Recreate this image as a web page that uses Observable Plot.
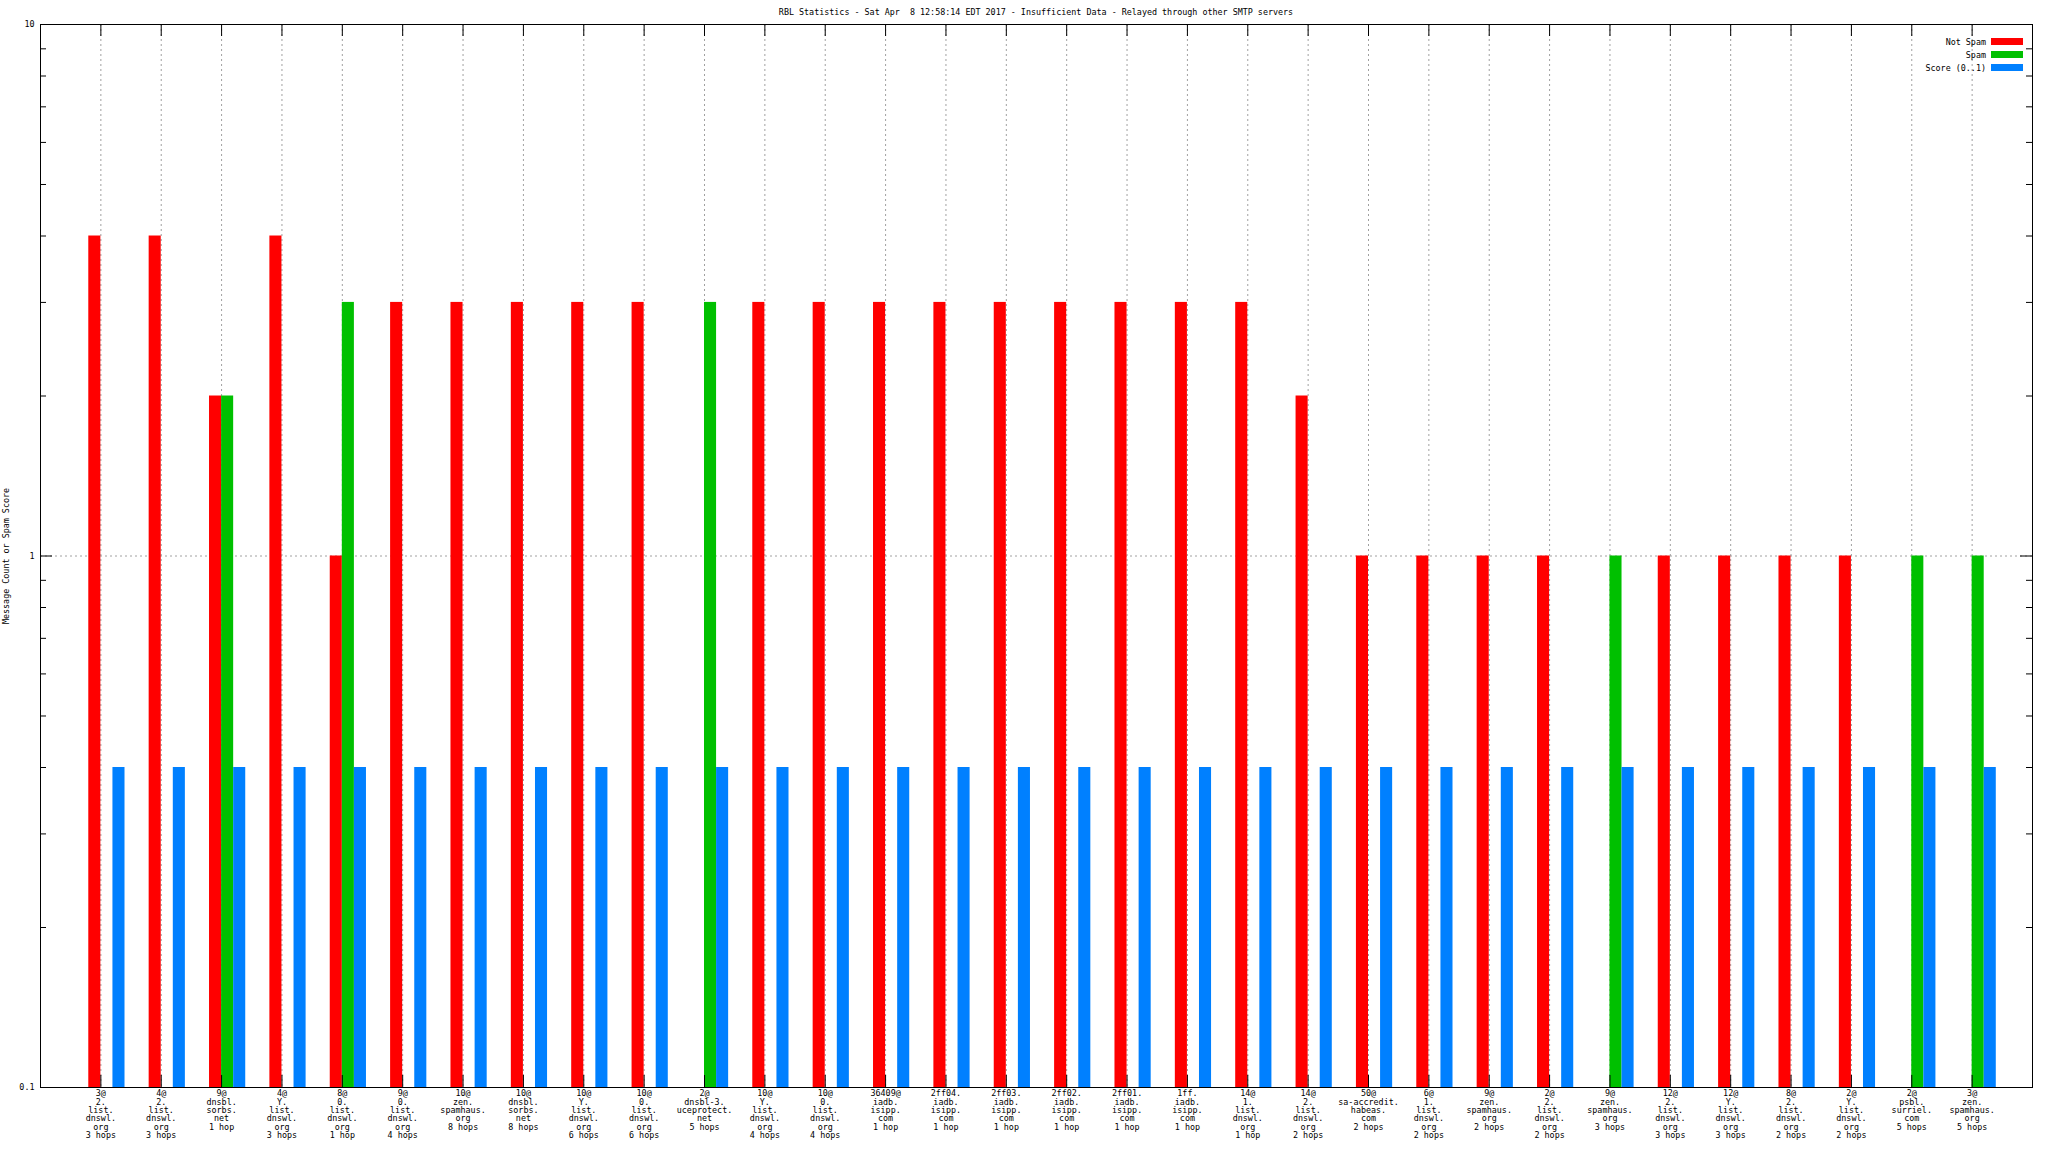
<!DOCTYPE html>
<html>
<head>
<meta charset="utf-8">
<script src="https://cdn.jsdelivr.net/npm/d3@7"></script>
<script src="https://cdn.jsdelivr.net/npm/@observablehq/plot@0.6"></script>
<style>
  body { margin: 0; background: #fff; }
  #wrap { position: relative; width: 2048px; height: 1152px; font-family: "DejaVu Sans Mono", monospace; color: #000; }
  #title { position: absolute; left: 40px; width: 1992px; top: 7px; text-align: center; font-size: 8.4px; line-height: 10px; white-space: pre; }
  #legend { position: absolute; top: 35px; right: 25px; font-size: 8.4px; }
  .row { display: flex; align-items: center; justify-content: flex-end; height: 13px; }
  .sw { width: 32px; height: 7px; margin-left: 5px; }
</style>
</head>
<body>
<div id="wrap">
  <div id="chart"></div>
  <div id="title"></div>
  <div id="legend"></div>
</div>
<script>
const title = "RBL Statistics - Sat Apr  8 12:58:14 EDT 2017 - Insufficient Data - Relayed through other SMTP servers";
const yLabel = "Message Count or Spam Score";

const categories = [
  "3@\n2.\nlist.\ndnswl.\norg\n3 hops",
  "4@\n2.\nlist.\ndnswl.\norg\n3 hops",
  "9@\ndnsbl.\nsorbs.\nnet\n1 hop",
  "4@\nY.\nlist.\ndnswl.\norg\n3 hops",
  "8@\n0.\nlist.\ndnswl.\norg\n1 hop",
  "9@\n0.\nlist.\ndnswl.\norg\n4 hops",
  "10@\nzen.\nspamhaus.\norg\n8 hops",
  "10@\ndnsbl.\nsorbs.\nnet\n8 hops",
  "10@\nY.\nlist.\ndnswl.\norg\n6 hops",
  "10@\n0.\nlist.\ndnswl.\norg\n6 hops",
  "2@\ndnsbl-3.\nuceprotect.\nnet\n5 hops",
  "10@\nY.\nlist.\ndnswl.\norg\n4 hops",
  "10@\n0.\nlist.\ndnswl.\norg\n4 hops",
  "36409@\niadb.\nisipp.\ncom\n1 hop",
  "2ff04.\niadb.\nisipp.\ncom\n1 hop",
  "2ff03.\niadb.\nisipp.\ncom\n1 hop",
  "2ff02.\niadb.\nisipp.\ncom\n1 hop",
  "2ff01.\niadb.\nisipp.\ncom\n1 hop",
  "1ff.\niadb.\nisipp.\ncom\n1 hop",
  "14@\n1.\nlist.\ndnswl.\norg\n1 hop",
  "14@\n2.\nlist.\ndnswl.\norg\n2 hops",
  "50@\nsa-accredit.\nhabeas.\ncom\n2 hops",
  "6@\n1.\nlist.\ndnswl.\norg\n2 hops",
  "9@\nzen.\nspamhaus.\norg\n2 hops",
  "2@\n2.\nlist.\ndnswl.\norg\n2 hops",
  "9@\nzen.\nspamhaus.\norg\n3 hops",
  "12@\n2.\nlist.\ndnswl.\norg\n3 hops",
  "12@\nY.\nlist.\ndnswl.\norg\n3 hops",
  "8@\n2.\nlist.\ndnswl.\norg\n2 hops",
  "2@\nY.\nlist.\ndnswl.\norg\n2 hops",
  "2@\npsbl.\nsurriel.\ncom\n5 hops",
  "3@\nzen.\nspamhaus.\norg\n5 hops"
];

const notSpam = [4,4,2,4,1,3,3,3,3,3,0,3,3,3,3,3,3,3,3,3,2,1,1,1,1,0,1,1,1,1,0,0];
const spam    = [0,0,2,0,3,0,0,0,0,0,3,0,0,0,0,0,0,0,0,0,0,0,0,0,0,1,0,0,0,0,1,1];
const score   = [0.4,0.4,0.4,0.4,0.4,0.4,0.4,0.4,0.4,0.4,0.4,0.4,0.4,0.4,0.4,0.4,
                 0.4,0.4,0.4,0.4,0.4,0.4,0.4,0.4,0.4,0.4,0.4,0.4,0.4,0.4,0.4,0.4];

const seriesNames = ["Not Spam", "Spam", "Score (0..1)"];
const seriesColors = ["#ff0000", "#00c000", "#0080ff"];

const yTickLabels = [0.1, 1, 10];
const yMinorTicks = [0.2,0.3,0.4,0.5,0.6,0.7,0.8,0.9,2,3,4,5,6,7,8,9];
const yMajorTicks = [1];

// layout
const W = 2048, H = 1152;
const mL = 40, mR = 16, mT = 24, mB = 65;
const fw = W - mL - mR, fh = H - mT - mB;
const barW = 0.2;
const offsets = [-barW, 0, barW];
const yMin = 0.1;
const FONT = "DejaVu Sans Mono";
const FS = 8.4;

const idx = d3.range(categories.length);
const allSeries = [notSpam, spam, score];
const rows = [];
allSeries.forEach((vals, s) => {
  vals.forEach((v, i) => { if (v > 0) rows.push({i, s, v}); });
});

const chart = Plot.plot({
  width: W, height: H,
  marginLeft: mL, marginRight: mR, marginTop: mT, marginBottom: mB,
  style: {fontFamily: FONT, fontSize: FS + "px", background: "white", color: "black"},
  x: {type: "linear", domain: [-1, 32]},
  y: {type: "log", domain: [0.1, 10]},
  marks: [
    Plot.ruleX(idx, {x: d => d, stroke: "#a0a0a0", strokeDasharray: "2,3"}),
    Plot.ruleY(yMajorTicks, {y: d => d, stroke: "#a0a0a0", strokeDasharray: "2,3"}),
    Plot.rect(rows, {
      x1: d => d.i + offsets[d.s],
      x2: d => d.i + offsets[d.s] + barW,
      y1: () => yMin,
      y2: "v",
      fill: d => seriesColors[d.s]
    }),
    // top & bottom category ticks
    Plot.tickX(idx, {x: d => d, stroke: "black", insetBottom: fh - 12}),
    Plot.tickX(idx, {x: d => d, stroke: "black", insetTop: fh - 12}),
    // y minor/major ticks, left & right
    Plot.tickY(yMinorTicks, {y: d => d, stroke: "black", insetRight: fw - 6}),
    Plot.tickY(yMinorTicks, {y: d => d, stroke: "black", insetLeft: fw - 6}),
    Plot.tickY(yMajorTicks, {y: d => d, stroke: "black", insetRight: fw - 12}),
    Plot.tickY(yMajorTicks, {y: d => d, stroke: "black", insetLeft: fw - 12}),
    Plot.axisY(yTickLabels, {anchor: "left", tickSize: 0, tickPadding: 6, tickFormat: d => String(d), label: null, fontSize: FS}),
    Plot.axisX(idx, {anchor: "bottom", tickSize: 0, tickPadding: 3, tickFormat: i => categories[i], label: null, lineHeight: 8.33 / FS, fontSize: FS}),
    Plot.text([yLabel], {text: d => d, frameAnchor: "left", textAnchor: "middle", dx: -34, rotate: -90, fontSize: FS}),
    Plot.frame({stroke: "black"})
  ]
});
document.getElementById("chart").appendChild(chart);

document.getElementById("title").textContent = title;
const legend = document.getElementById("legend");
seriesNames.forEach((name, s) => {
  const row = document.createElement("div");
  row.className = "row";
  const t = document.createElement("span");
  t.textContent = name;
  t.style.whiteSpace = "pre";
  const sw = document.createElement("div");
  sw.className = "sw";
  sw.style.background = seriesColors[s];
  row.appendChild(t);
  row.appendChild(sw);
  legend.appendChild(row);
});
</script>
</body>
</html>
